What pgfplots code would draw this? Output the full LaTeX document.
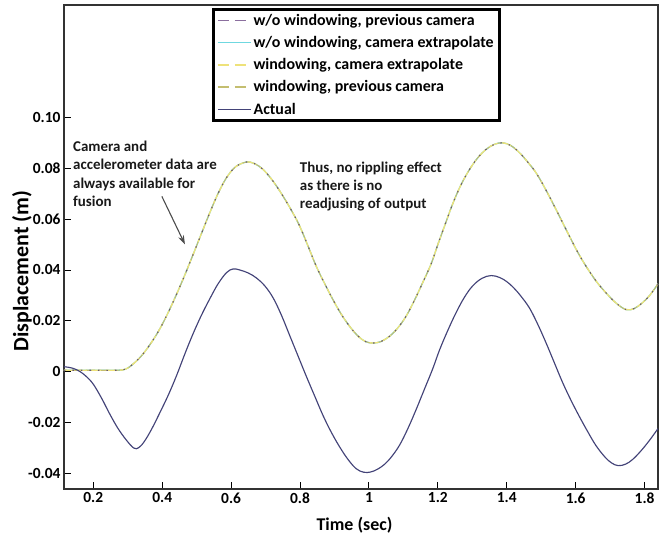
\documentclass[border=0pt]{standalone}
\usepackage{pgfplots}
\pgfplotsset{compat=1.18}
\usepackage{fontspec}
\setmainfont{Carlito}
\usetikzlibrary{arrows.meta}
\definecolor{cActual}{HTML}{434378}
\definecolor{cPurple}{HTML}{8B6F9E}
\definecolor{cDark}{HTML}{6A5A6A}
\definecolor{cCyan}{HTML}{6FD8E0}
\definecolor{cYellow}{HTML}{EEE27A}
\definecolor{cOlive}{HTML}{C4BE70}

\pgfplotstableread{
x y
0.115 0.0005
0.200 0.0005
0.270 0.0005
0.295 0.0010
0.316 0.0030
0.340 0.0062
0.364 0.0105
0.389 0.0158
0.413 0.0220
0.437 0.0290
0.461 0.0365
0.485 0.0445
0.510 0.0530
0.535 0.0615
0.560 0.0695
0.585 0.0760
0.610 0.0803
0.635 0.0822
0.655 0.0825
0.680 0.0810
0.702 0.0783
0.727 0.0740
0.751 0.0690
0.775 0.0635
0.799 0.0573
0.823 0.0495
0.847 0.0415
0.872 0.0345
0.896 0.0282
0.920 0.0225
0.944 0.0178
0.968 0.0140
0.990 0.0118
1.012 0.0112
1.035 0.0118
1.060 0.0139
1.084 0.0172
1.108 0.0218
1.132 0.0280
1.156 0.0350
1.180 0.0422
1.200 0.0500
1.220 0.0575
1.243 0.0660
1.267 0.0735
1.292 0.0796
1.316 0.0842
1.340 0.0875
1.364 0.0895
1.388 0.0901
1.412 0.0890
1.437 0.0862
1.461 0.0825
1.485 0.0783
1.509 0.0727
1.533 0.0665
1.558 0.0598
1.582 0.0533
1.606 0.0470
1.630 0.0415
1.660 0.0355
1.688 0.0310
1.717 0.0270
1.746 0.0244
1.770 0.0248
1.794 0.0271
1.815 0.0300
1.839 0.0345
}\fused

\pgfplotstableread{
x y
0.115 0.0019
0.140 0.0013
0.161 0.0000
0.180 -0.0020
0.200 -0.0050
0.224 -0.0105
0.248 -0.0168
0.272 -0.0225
0.297 -0.0272
0.318 -0.0302
0.332 -0.0300
0.348 -0.0276
0.369 -0.0228
0.393 -0.0163
0.418 -0.0092
0.442 -0.0015
0.466 0.0070
0.490 0.0150
0.514 0.0222
0.538 0.0286
0.562 0.0345
0.587 0.0390
0.606 0.0404
0.625 0.0400
0.650 0.0388
0.674 0.0368
0.698 0.0337
0.722 0.0290
0.746 0.0222
0.770 0.0142
0.794 0.0062
0.818 -0.0018
0.843 -0.0098
0.867 -0.0174
0.891 -0.0240
0.915 -0.0297
0.939 -0.0346
0.963 -0.0383
0.985 -0.0397
1.005 -0.0396
1.025 -0.0385
1.045 -0.0366
1.065 -0.0337
1.089 -0.0290
1.113 -0.0225
1.137 -0.0150
1.161 -0.0070
1.185 0.0010
1.205 0.0085
1.229 0.0162
1.253 0.0232
1.277 0.0292
1.301 0.0337
1.328 0.0367
1.355 0.0378
1.380 0.0370
1.400 0.0354
1.420 0.0330
1.441 0.0297
1.466 0.0250
1.490 0.0186
1.514 0.0113
1.538 0.0035
1.562 -0.0043
1.587 -0.0115
1.611 -0.0178
1.635 -0.0237
1.659 -0.0292
1.685 -0.0337
1.705 -0.0361
1.724 -0.0371
1.745 -0.0365
1.765 -0.0347
1.790 -0.0312
1.815 -0.0270
1.839 -0.0225
}\actual

\begin{document}
\begin{tikzpicture}
\begin{axis}[
  name=ax,
  scale only axis, width=594bp, height=484bp,
  xmin=0.115, xmax=1.839, ymin=-0.0463, ymax=0.1444,
  axis line style={line width=1.2bp, black!80},
  xtick={0.2,0.4,0.6,0.8,1,1.2,1.4,1.6,1.8},
  xticklabels={0.2,0.4,0.6,0.8,1,1.2,1.4,1.6,1.8},
  ytick={-0.04,-0.02,0,0.02,0.04,0.06,0.08,0.10},
  yticklabels={-0.04,-0.02,0,0.02,0.04,0.06,0.08,0.10},
  xtick pos=bottom, ytick pos=left,
  tick align=inside,
  major tick length=7bp,
  tick style={black, line width=0.9bp},
  tick label style={font=\fontsize{15.5}{18}\selectfont\bfseries},
  /pgf/number format/assume math mode=true,
  xlabel={Time (sec)},
  ylabel={Displacement (m)},
  xlabel style={font=\fontsize{18}{21}\selectfont\bfseries, at={(axis description cs:0.489,0)}, anchor=center, yshift=-36bp},
  ylabel style={font=\fontsize{22}{25}\selectfont\bfseries, at={(axis description cs:-0.0707,0.45)}, anchor=center},
  legend style={at={(rel axis cs:0.249,0.994)}, anchor=north west, draw=black, line width=2.8bp,
    font=\fontsize{16}{18}\selectfont\bfseries, inner xsep=4bp, inner ysep=3bp, row sep=5.5bp},
  legend cell align=left,
  legend image code/.code={\draw[#1, line width=1.3bp] (0bp,0bp) -- (33bp,0bp);},
]
\addlegendimage{cPurple, dash pattern=on 11bp off 6bp}
\addlegendimage{cCyan}
\addlegendimage{cYellow, dash pattern=on 11bp off 6bp}
\addlegendimage{cOlive, dash pattern=on 11bp off 6bp}
\addlegendimage{cActual}

\addplot[forget plot, cCyan, line width=1.3bp, smooth, tension=0.6] table {\fused};
\addplot[forget plot, cOlive, line width=1.1bp, smooth, tension=0.6, dash pattern=on 9bp off 5bp, dash phase=6bp] table {\fused};
\addplot[forget plot, cYellow, line width=1.3bp, smooth, tension=0.6, dash pattern=on 9bp off 5bp] table {\fused};
\addplot[forget plot, cDark, line width=1.1bp, smooth, tension=0.6, dash pattern=on 1.5bp off 7bp] table {\fused};
\addplot[forget plot, cActual, line width=1.15bp, smooth, tension=0.6] table {\actual};

\legend{{w/o windowing, previous camera},{w/o windowing, camera extrapolate},{windowing, camera extrapolate},{windowing, previous camera},{Actual}}

\node[anchor=north west, inner sep=0pt, align=left, text=black!90, font=\fontsize{15}{18.5}\selectfont\bfseries]
  at (axis cs:0.141,0.0910) {Camera and\\accelerometer data are\\always available for\\fusion};
\node[anchor=north west, inner sep=0pt, align=left, text=black!90, font=\fontsize{15}{18.5}\selectfont\bfseries]
  at (axis cs:0.799,0.0828) {Thus, no rippling effect\\as there is no\\readjusing of output};
\draw[-{Stealth[length=9bp,width=6bp]}, line width=1.1bp, black!70]
  (axis cs:0.399,0.0690) -- (axis cs:0.466,0.0501);
\end{axis}
\path (ax.south west) ++(-64bp,-48bp) coordinate (bbA);
\path (ax.north east) ++(5bp,5bp) coordinate (bbB);
\path (bbA) rectangle (bbB);
\end{tikzpicture}
\end{document}
